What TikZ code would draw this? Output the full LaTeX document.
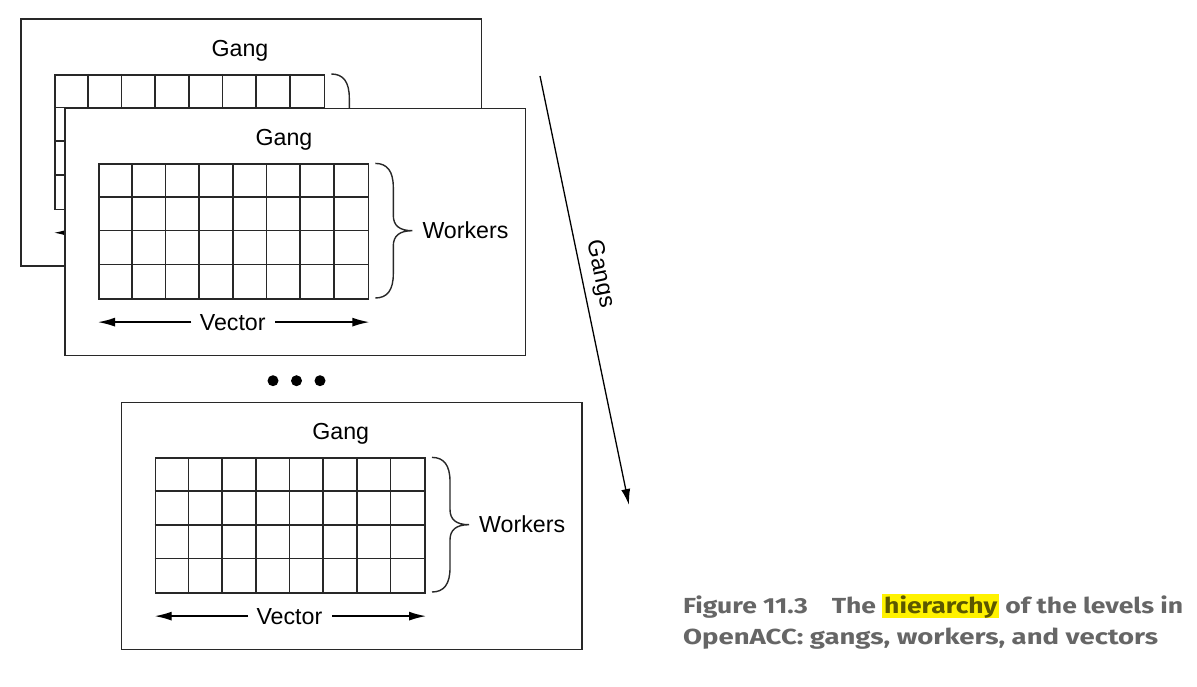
\documentclass[tikz,border=0pt]{standalone}
\usepackage{fontspec}
\usepackage{graphicx}
\setmainfont{Liberation Sans}
\newfontfamily\capfont{Fira Sans}
\usetikzlibrary{calc,arrows.meta}
\definecolor{linec}{RGB}{40,40,40}
\definecolor{capgray}{RGB}{102,102,102}
\definecolor{hlyellow}{RGB}{255,242,0}
\definecolor{hltext}{RGB}{92,88,0}
\newcommand\hlword[1]{{\setlength\fboxsep{0pt}\colorbox{hlyellow}{\rule[-5pt]{0pt}{24pt}\hspace{1.5pt}\textcolor{hltext}{#1}\hspace{1.5pt}}}}
\tikzset{
  card/.style={draw=linec, line width=1.5pt, fill=white, minimum width=460.5pt, minimum height=247pt, inner sep=0pt, anchor=north west},
  gridbox/.style={draw=linec, line width=1.6pt, minimum width=269.7pt, minimum height=134.6pt, inner sep=0pt, anchor=north west},
  gridline/.style={draw=linec, line width=1.6pt},
  lbl/.style={inner sep=0pt, font=\fontsize{23.2}{27}\selectfont},
  bracepath/.style={draw=linec, line width=1.4pt},
  vecarrow/.style={draw=black, line width=1.4pt, -{Latex[length=17pt,width=9pt]}},
  gangarrow/.style={draw=black, line width=1.3pt, -{Latex[length=16pt,width=9pt]}},
  dot/.style={circle, fill=black, minimum size=11pt, inner sep=0pt},
  caption/.style={inner sep=0pt, anchor=base west, text=capgray, font=\capfont\bfseries\fontsize{21.8}{26}\selectfont},
}
\newcommand\gangcard[3]{%
\begin{scope}[shift={(#2,#3)}]
  \node[card] (#1) at (0,0) {};
  \node[lbl, anchor=base] (#1gang) at (220,38) {Gang};
  \node[gridbox] (#1g) at (34,55.7) {};
  \foreach \i in {1,...,7} {\draw[gridline] ($(#1g.north west)+(\i*33.71,0)$) -- ($(#1g.south west)+(\i*33.71,0)$);}
  \foreach \j in {1,2,3} {\draw[gridline] ($(#1g.north west)+(0,\j*33.65)$) -- ($(#1g.north east)+(0,\j*33.65)$);}
  \draw[bracepath] ($(#1g.north east)+(6,0)$) .. controls +(12,0) and +(0,-16) .. ++(18,24) -- ++(0,28)
     .. controls +(0,10) and +(-13,0) .. ++(19,15.3) coordinate (#1tip)
     .. controls +(-13,0) and +(0,-10) .. ++(-19,15.3) -- ++(0,28)
     .. controls +(0,16) and +(12,0) .. ++(-18,24);
  \node[lbl, anchor=west] (#1w) at ($(#1tip)+(10,0)$) {Workers};
  \node[lbl, anchor=base] (#1v) at (168.7,222.3) {Vector};
  \draw[vecarrow] ($(#1v.west)+(-8.3,0)$) -- (#1v.west -| #1g.west);
  \draw[vecarrow] ($(#1v.east)+(9.7,0)$) -- (#1v.east -| #1g.east);
\end{scope}}
\begin{document}
\begin{tikzpicture}[x=1pt,y=-1pt]
  \useasboundingbox (0,0) rectangle (1197,687);
  \gangcard{back}{20}{18.3}
  \gangcard{front}{64}{107.7}
  \node[dot] (d1) at (273,380.7) {};
  \node[dot] (d2) at (296.5,380.7) {};
  \node[dot] (d3) at (320,380.7) {};
  \gangcard{bottom}{120.7}{401.7}
  \coordinate (gs) at (540,76);
  \coordinate (ge) at (629,505);
  \draw[gangarrow] (gs) -- node[lbl, sloped, above, pos=0.47, inner sep=7pt] (gangs) {Gangs} (ge);
  \node[caption] (cap1) at (683,613) {\resizebox{500pt}{\height}{Figure 11.3\hspace{0.9em}The \hlword{hierarchy} of the levels in}};
  \node[caption] (cap2) at (683,644) {\resizebox{475pt}{\height}{OpenACC: gangs, workers, and vectors}};
\end{tikzpicture}
\end{document}
